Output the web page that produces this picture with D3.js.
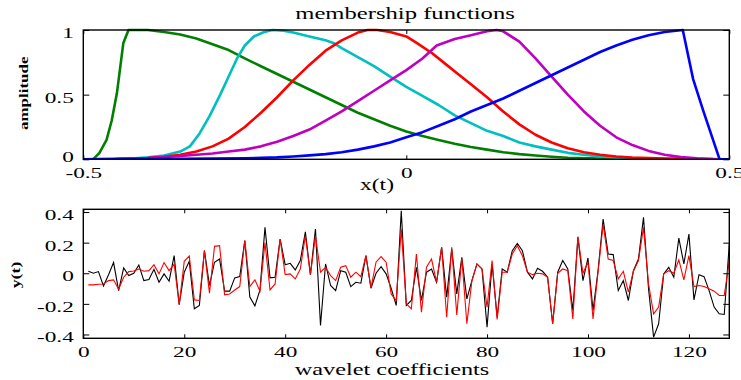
<!DOCTYPE html>
<html>
<head>
<meta charset="utf-8">
<script src="https://cdn.jsdelivr.net/npm/d3@7"></script>
<style>
  body { margin: 0; background: #fff; }
  svg { display: block; }
  svg text { font-family: "Liberation Serif", "Times New Roman", serif; fill: #000; font-weight: normal; }
</style>
</head>
<body>
<div id="chart"></div>
<script>
// membership functions, [x, amplitude]
var greenMf = [[-0.5,0],[-0.485,0],[-0.475,0.05],[-0.464,0.15],[-0.456,0.3],[-0.448,0.51],[-0.438,0.9],[-0.43,1],[-0.4,1],[-0.375,0.985],[-0.35,0.965],[-0.325,0.935],[-0.3,0.89],[-0.275,0.845],[-0.25,0.78],[-0.225,0.72],[-0.2,0.66],[-0.175,0.6],[-0.15,0.54],[-0.125,0.48],[-0.1,0.42],[-0.075,0.36],[-0.05,0.31],[-0.025,0.26],[0,0.215],[0.025,0.18],[0.05,0.15],[0.075,0.12],[0.1,0.095],[0.125,0.075],[0.15,0.055],[0.175,0.04],[0.2,0.03],[0.225,0.02],[0.25,0.012],[0.3,0.005],[0.35,0.002],[0.5,0]]
var cyanMf = [[-0.5,0],[-0.45,0.002],[-0.425,0.006],[-0.4,0.015],[-0.375,0.03],[-0.35,0.06],[-0.335,0.1],[-0.32,0.2],[-0.305,0.33],[-0.288,0.5],[-0.275,0.64],[-0.262,0.78],[-0.25,0.88],[-0.236,0.95],[-0.22,0.985],[-0.207,1],[-0.19,0.995],[-0.175,0.98],[-0.15,0.95],[-0.125,0.92],[-0.113,0.9],[-0.1,0.86],[-0.075,0.79],[-0.05,0.72],[-0.025,0.64],[0,0.56],[0.025,0.49],[0.05,0.42],[0.075,0.34],[0.1,0.28],[0.125,0.22],[0.15,0.18],[0.175,0.13],[0.2,0.1],[0.225,0.075],[0.25,0.05],[0.275,0.035],[0.3,0.022],[0.325,0.013],[0.35,0.007],[0.4,0.002],[0.45,0],[0.5,0]]
var redMf = [[-0.5,0],[-0.45,0.002],[-0.4,0.01],[-0.375,0.02],[-0.35,0.035],[-0.325,0.06],[-0.3,0.1],[-0.275,0.16],[-0.25,0.25],[-0.225,0.36],[-0.2,0.48],[-0.175,0.61],[-0.15,0.73],[-0.125,0.84],[-0.1,0.92],[-0.075,0.98],[-0.06,1],[-0.045,1],[-0.025,0.985],[0,0.95],[0.016,0.9],[0.04,0.82],[0.06,0.74],[0.08,0.66],[0.1,0.58],[0.125,0.48],[0.15,0.37],[0.175,0.27],[0.2,0.19],[0.225,0.13],[0.25,0.085],[0.275,0.055],[0.3,0.035],[0.325,0.022],[0.35,0.013],[0.4,0.005],[0.45,0.001],[0.5,0]]
var magentaMf = [[-0.5,0],[-0.45,0.003],[-0.4,0.01],[-0.35,0.025],[-0.3,0.045],[-0.275,0.06],[-0.25,0.075],[-0.225,0.1],[-0.2,0.135],[-0.175,0.18],[-0.15,0.23],[-0.125,0.3],[-0.1,0.37],[-0.075,0.45],[-0.05,0.53],[-0.025,0.61],[0,0.69],[0.025,0.78],[0.047,0.88],[0.075,0.93],[0.1,0.96],[0.125,0.99],[0.14,1],[0.15,0.99],[0.175,0.91],[0.2,0.78],[0.225,0.64],[0.25,0.5],[0.275,0.37],[0.3,0.26],[0.325,0.17],[0.35,0.11],[0.375,0.065],[0.4,0.035],[0.425,0.017],[0.45,0.007],[0.475,0.002],[0.5,0]]
var blueMf = [[-0.5,0],[-0.4,0.002],[-0.3,0.005],[-0.25,0.008],[-0.2,0.015],[-0.175,0.022],[-0.15,0.03],[-0.125,0.04],[-0.1,0.055],[-0.075,0.075],[-0.05,0.1],[-0.025,0.13],[0,0.17],[0.025,0.21],[0.05,0.26],[0.075,0.31],[0.1,0.37],[0.125,0.42],[0.15,0.47],[0.175,0.53],[0.2,0.59],[0.225,0.65],[0.25,0.71],[0.275,0.77],[0.3,0.83],[0.325,0.88],[0.35,0.925],[0.375,0.96],[0.4,0.985],[0.428,1],[0.444,0.62],[0.46,0.37],[0.485,0],[0.5,0]]
var mfColors = ["#008000", "#00bfbf", "#ff0000", "#bf00bf", "#0000ff"]

// wavelet coefficients 1..128
var coefIndex = d3.range(1, 129)
var blackCoef = [0.013,0,0.011,-0.083,-0.01,0.07,-0.113,0.035,-0.015,0,
  0.054,-0.048,-0.041,0.026,-0.059,-0.004,-0.052,0.115,-0.206,0.007,
  0.078,-0.232,-0.21,0.148,-0.08,0.072,0.093,-0.117,-0.117,-0.03,
  -0.022,0.213,-0.156,-0.213,-0.11,0.3,-0.03,-0.026,0.224,0.056,
  0.065,0.022,0.083,0.271,-0.009,0.289,-0.341,0.061,-0.08,-0.113,
  0.017,0.007,-0.087,-0.059,-0.065,0.115,-0.098,0,0.043,-0.004,
  -0.098,-0.21,0.408,-0.21,-0.178,0.039,-0.178,0.007,0.028,-0.059,
  0.17,-0.156,0.159,-0.135,0.104,-0.167,-0.048,0.061,0.028,-0.352,
  0.061,-0.287,0.028,0.007,0.148,0.195,0.148,0.007,-0.037,0.033,
  0.013,-0.026,-0.33,0.007,0.083,0.028,-0.243,0.235,-0.048,0.1,
  -0.243,0.02,0.354,0.126,0.122,-0.113,-0.048,-0.178,0.017,0.093,
  0.365,-0.102,-0.417,-0.33,-0.004,0.039,-0.026,0.23,0.061,0.256,
  -0.174,-0.009,-0.022,-0.113,-0.221,-0.265,-0.269,0.191]
var redCoef = [-0.076,-0.076,-0.072,-0.07,-0.048,-0.043,-0.104,-0.026,0.011,0.015,
  0.028,0.013,0.017,0.056,-0.004,0.07,0.017,0.06,-0.206,0.078,
  0.113,-0.174,-0.178,0.148,-0.13,0.176,0.18,-0.141,-0.135,-0.109,
  -0.087,0.213,-0.087,-0.043,-0.117,0.2,-0.109,-0.07,0.224,-0.009,
  -0.004,-0.037,0.028,0.245,-0.009,0.245,0.007,0.039,-0.015,-0.048,
  0.039,0.05,-0.026,0.007,-0.022,0.115,-0.096,0.072,0.109,0.072,
  -0.135,-0.178,0.289,-0.2,-0.232,0.126,-0.254,0.039,0.093,-0.059,
  0.17,-0.287,0.17,-0.272,0.1,-0.33,-0.048,0.061,0.028,-0.221,
  0.083,-0.302,0.007,0.007,0.126,0.18,0.115,0.007,-0.009,0,
  -0.004,-0.026,-0.33,0,0.028,0.017,-0.298,0.239,0,0.072,
  -0.298,0.01,0.32,0.093,0.083,-0.037,0.013,-0.124,0.013,0.083,
  0.3,-0.07,-0.265,-0.221,-0.004,0.017,0,0.087,-0.043,0.115,
  -0.087,-0.08,-0.087,-0.102,-0.117,-0.145,-0.145,0.083]

var topTicksX = [-0.5, 0, 0.5]
var topTicksY = [0, 0.5, 1]
var botTicksX = [0, 20, 40, 60, 80, 100, 120]
var botTicksY = [-0.4, -0.2, 0, 0.2, 0.4]

var width = 741
var height = 380
var left = 83.3, right = 729.3
var top1 = 30, bottom1 = 159.3
var top2 = 209.3, bottom2 = 338.3
var sx = 1.5  // the source text is stretched sideways
var serif = "'Liberation Serif', 'Times New Roman', serif"
var fmt = d => String(d)   // plain hyphen minus, like the picture

var svg = d3.select("#chart").append("svg")
    .attr("width", width)
    .attr("height", height)

// titles and axis labels
function label(parent, x, y, str, size, stretch) {
    return parent.append("text")
        .attr("transform", `translate(${x},${y}) scale(${stretch},1)`)
        .attr("text-anchor", "middle")
        .style("font-family", serif)
        .style("font-size", size + "px")
        .text(str)
}

function drawAxes(xScale, yScale, xTicks, yTicks, yTop, yBottom, zeroShift) {
    var g = svg.append("g")
    var axes = [
        [d3.axisBottom(xScale).tickValues(xTicks).tickSizeInner(-4).tickFormat(fmt), `translate(0,${yBottom})`, true],
        [d3.axisTop(xScale).tickValues(xTicks).tickSizeInner(-4).tickFormat(""), `translate(0,${yTop})`, false],
        [d3.axisLeft(yScale).tickValues(yTicks).tickSizeInner(-6).tickFormat(fmt), `translate(${left},0)`, true],
        [d3.axisRight(yScale).tickValues(yTicks).tickSizeInner(-6).tickFormat(""), `translate(${right},0)`, false]
    ]
    axes.forEach(function(a, i) {
        var ax = g.append("g").attr("transform", a[1]).call(a[0].tickSizeOuter(0))
        ax.select(".domain").remove()
        ax.selectAll("line").attr("stroke", "#000").attr("stroke-width", 1)
        ax.attr("font-family", null).attr("font-size", null)
        if (!a[2]) { ax.selectAll("text").remove(); return }
        ax.selectAll("text")
            .style("font-family", serif)
            .style("font-size", "15.5px")
        if (i == 0) {
            ax.selectAll("text")
                .attr("y", null).attr("dy", null)
                .attr("transform", `translate(0,19) scale(${sx},1)`)
        } else {
            ax.selectAll("text")
                .attr("x", null).attr("dy", "0.35em")
                .attr("text-anchor", "end")
                .attr("transform", d => `translate(-9.5,${d == 0 ? zeroShift : 2}) scale(${sx},1)`)
        }
    })
    g.append("rect")
        .attr("x", left).attr("y", yTop)
        .attr("width", right - left).attr("height", yBottom - yTop)
        .attr("fill", "none").attr("stroke", "#000").attr("stroke-width", 1.4)
}

// --- top panel: membership functions
var x1 = d3.scaleLinear().domain([-0.5, 0.5]).range([left, right])
var y1 = d3.scaleLinear().domain([0, 1]).range([bottom1, top1])

svg.append("clipPath").attr("id", "clip1").append("rect")
    .attr("x", left).attr("y", top1 - 2).attr("width", right - left).attr("height", bottom1 - top1 + 2)

var mfLine = d3.line().x(d => x1(d[0])).y(d => y1(d[1]))
var mfPlot = svg.append("g").attr("clip-path", "url(#clip1)")
;[greenMf, cyanMf, redMf, magentaMf, blueMf].forEach(function(mf, i) {
    mfPlot.append("path")
        .attr("d", mfLine(mf))
        .attr("fill", "none")
        .attr("stroke", mfColors[i])
        .attr("stroke-width", 2.6)
        .attr("stroke-linejoin", "round")
})
drawAxes(x1, y1, topTicksX, topTicksY, top1, bottom1, -3)

// --- bottom panel: coefficients
var x2 = d3.scaleLinear().domain([0, 128]).range([left, right])
var y2 = d3.scaleLinear().domain([-0.425, 0.418]).range([bottom2, top2])

svg.append("clipPath").attr("id", "clip2").append("rect")
    .attr("x", left).attr("y", top2 - 1).attr("width", right - left).attr("height", bottom2 - top2 + 2)

var coefLine = d3.line().x((d, i) => x2(coefIndex[i])).y(d => y2(d))
var coefPlot = svg.append("g").attr("clip-path", "url(#clip2)")
coefPlot.append("path")
    .attr("d", coefLine(blackCoef))
    .attr("fill", "none").attr("stroke", "#000").attr("stroke-width", 1.1)
coefPlot.append("path")
    .attr("d", coefLine(redCoef))
    .attr("fill", "none").attr("stroke", "#ff0000").attr("stroke-width", 1.1)
drawAxes(x2, y2, botTicksX, botTicksY, top2, bottom2, 2)

// labels; the title's top is cut off in the picture
svg.append("clipPath").attr("id", "clipTitle").append("rect")
    .attr("x", 0).attr("y", 6.5).attr("width", width).attr("height", 22)
var titleG = svg.append("g").attr("clip-path", "url(#clipTitle)")
label(titleG, 405, 19.3, "membership functions", 17, 1.45)
label(svg, 377, 190, "x(t)", 16, 1.47)
label(svg, 392, 374.5, "wavelet coefficients", 16, 1.52)

svg.append("text")
    .attr("transform", "translate(27.8,93.3) rotate(-90) scale(1.36,1)")
    .attr("text-anchor", "middle")
    .style("font-family", serif)
    .style("font-size", "12.5px").style("font-weight", "bold")
    .text("amplitude")
svg.append("text")
    .attr("transform", "translate(20.2,275) rotate(-90) scale(1.42,1)")
    .attr("text-anchor", "middle")
    .style("font-family", serif)
    .style("font-size", "12.5px").style("font-weight", "bold")
    .text("y(t)")
</script>
</body>
</html>
